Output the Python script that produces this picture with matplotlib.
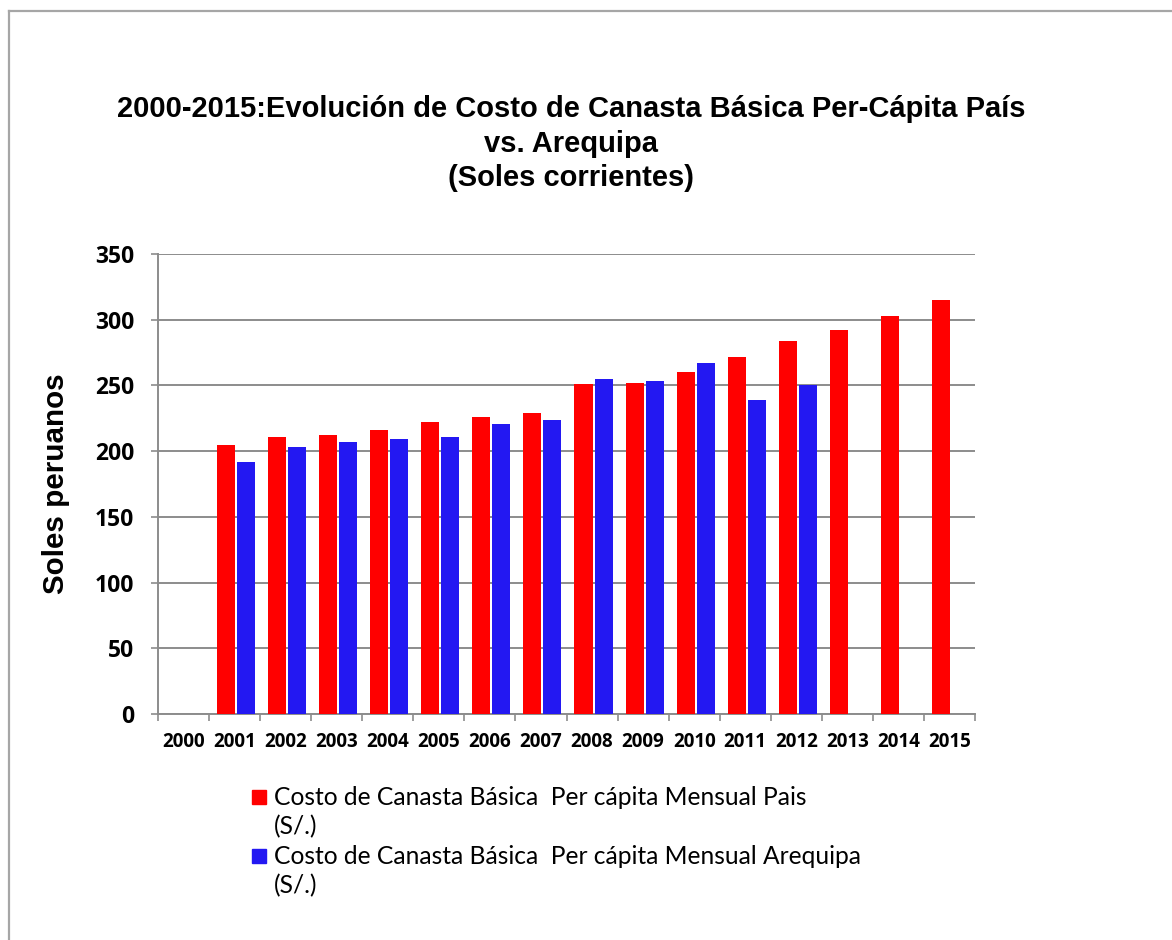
import numpy as np
import matplotlib
matplotlib.use("Agg")
import matplotlib.pyplot as plt
from matplotlib.patches import Rectangle
from matplotlib.lines import Line2D

# datos (soles corrientes)
anios = ["2000", "2001", "2002", "2003", "2004", "2005", "2006", "2007",
         "2008", "2009", "2010", "2011", "2012", "2013", "2014", "2015"]
costo_pais = [np.nan, 205, 211, 212, 216, 222, 226, 229,
              251, 252, 260, 272, 284, 292, 303, 315]
costo_arequipa = [np.nan, 192, 203, 207, 209, 211, 221, 224,
                  255, 253, 267, 239, 250, np.nan, np.nan, np.nan]
y_ticks = [0, 50, 100, 150, 200, 250, 300, 350]
series = ["Costo de Canasta Básica  Per cápita Mensual Pais\n(S/.)",
          "Costo de Canasta Básica  Per cápita Mensual Arequipa\n(S/.)"]
colores = ["#FF0000", "#2318F2"]

W, H = 1172, 940
fig = plt.figure(figsize=(W / 100, H / 100), dpi=100)
ax = fig.add_axes([158 / W, 1 - 714 / H, (975 - 158) / W, (714 - 254) / H])

x = np.arange(len(anios))
ax.bar(x - 0.167, costo_pais, width=0.353, color=colores[0], zorder=3)
ax.bar(x + 0.225, costo_arequipa, width=0.353, color=colores[1], zorder=3)

ax.set_xlim(-0.5, len(anios) - 0.5)
ax.set_ylim(0, 350)
ax.set_yticks(y_ticks)
ax.set_yticklabels([str(v) for v in y_ticks], family=["Open Sans", "DejaVu Sans"],
                   weight="bold", fontsize=16.5)
ax.yaxis.grid(True, color="#8c8c8c", lw=1.4, zorder=0)

ax.set_xticks(x)
ax.set_xticklabels(anios, family=["Open Sans", "DejaVu Sans"], weight="bold",
                   fontsize=13.5)
ax.set_xticks(np.arange(-0.5, len(anios), 1), minor=True)
ax.tick_params(axis="x", which="major", length=0, pad=13)
ax.tick_params(axis="x", which="minor", length=5, color="#8c8c8c", width=1.2)
ax.tick_params(axis="y", length=5, color="#8c8c8c", width=1.2, pad=12)

for s in ["top", "right"]:
    ax.spines[s].set_visible(False)
for s in ["left", "bottom"]:
    ax.spines[s].set_color("#8c8c8c")
    ax.spines[s].set_linewidth(1.4)

ax.set_ylabel("Soles peruanos", family="Liberation Sans", weight="bold",
              fontsize=21.3)
ax.yaxis.set_label_coords(-88 / (975 - 158), 0.5)

fig.text(571 / W, 1 - 95 / H,
         "2000-2015:Evolución de Costo de Canasta Básica Per-Cápita País\n"
         "vs. Arequipa\n(Soles corrientes)",
         ha="center", va="top", multialignment="center",
         family="Liberation Sans", weight="bold", fontsize=21, linespacing=1.3)

# leyenda armada a mano
for i, (nom, col) in enumerate(zip(series, colores)):
    ytop = 790 + i * 59
    fig.patches.append(Rectangle((252 / W, 1 - (ytop + 14) / H), 14 / W, 14 / H,
                                 transform=fig.transFigure, color=col))
    fig.text(274 / W, 1 - (ytop - 4) / H, nom, ha="left", va="top",
             family="Lato", fontsize=17.7, linespacing=1.32)

# marco gris
fig.lines.append(Line2D([8.5 / W, 1], [1 - 11 / H, 1 - 11 / H],
                        transform=fig.transFigure, color="#a6a6a6", lw=1.6))
fig.lines.append(Line2D([8.5 / W, 8.5 / W], [0, 1 - 11 / H],
                        transform=fig.transFigure, color="#a6a6a6", lw=1.6))

plt.savefig("out.png", dpi=100)
